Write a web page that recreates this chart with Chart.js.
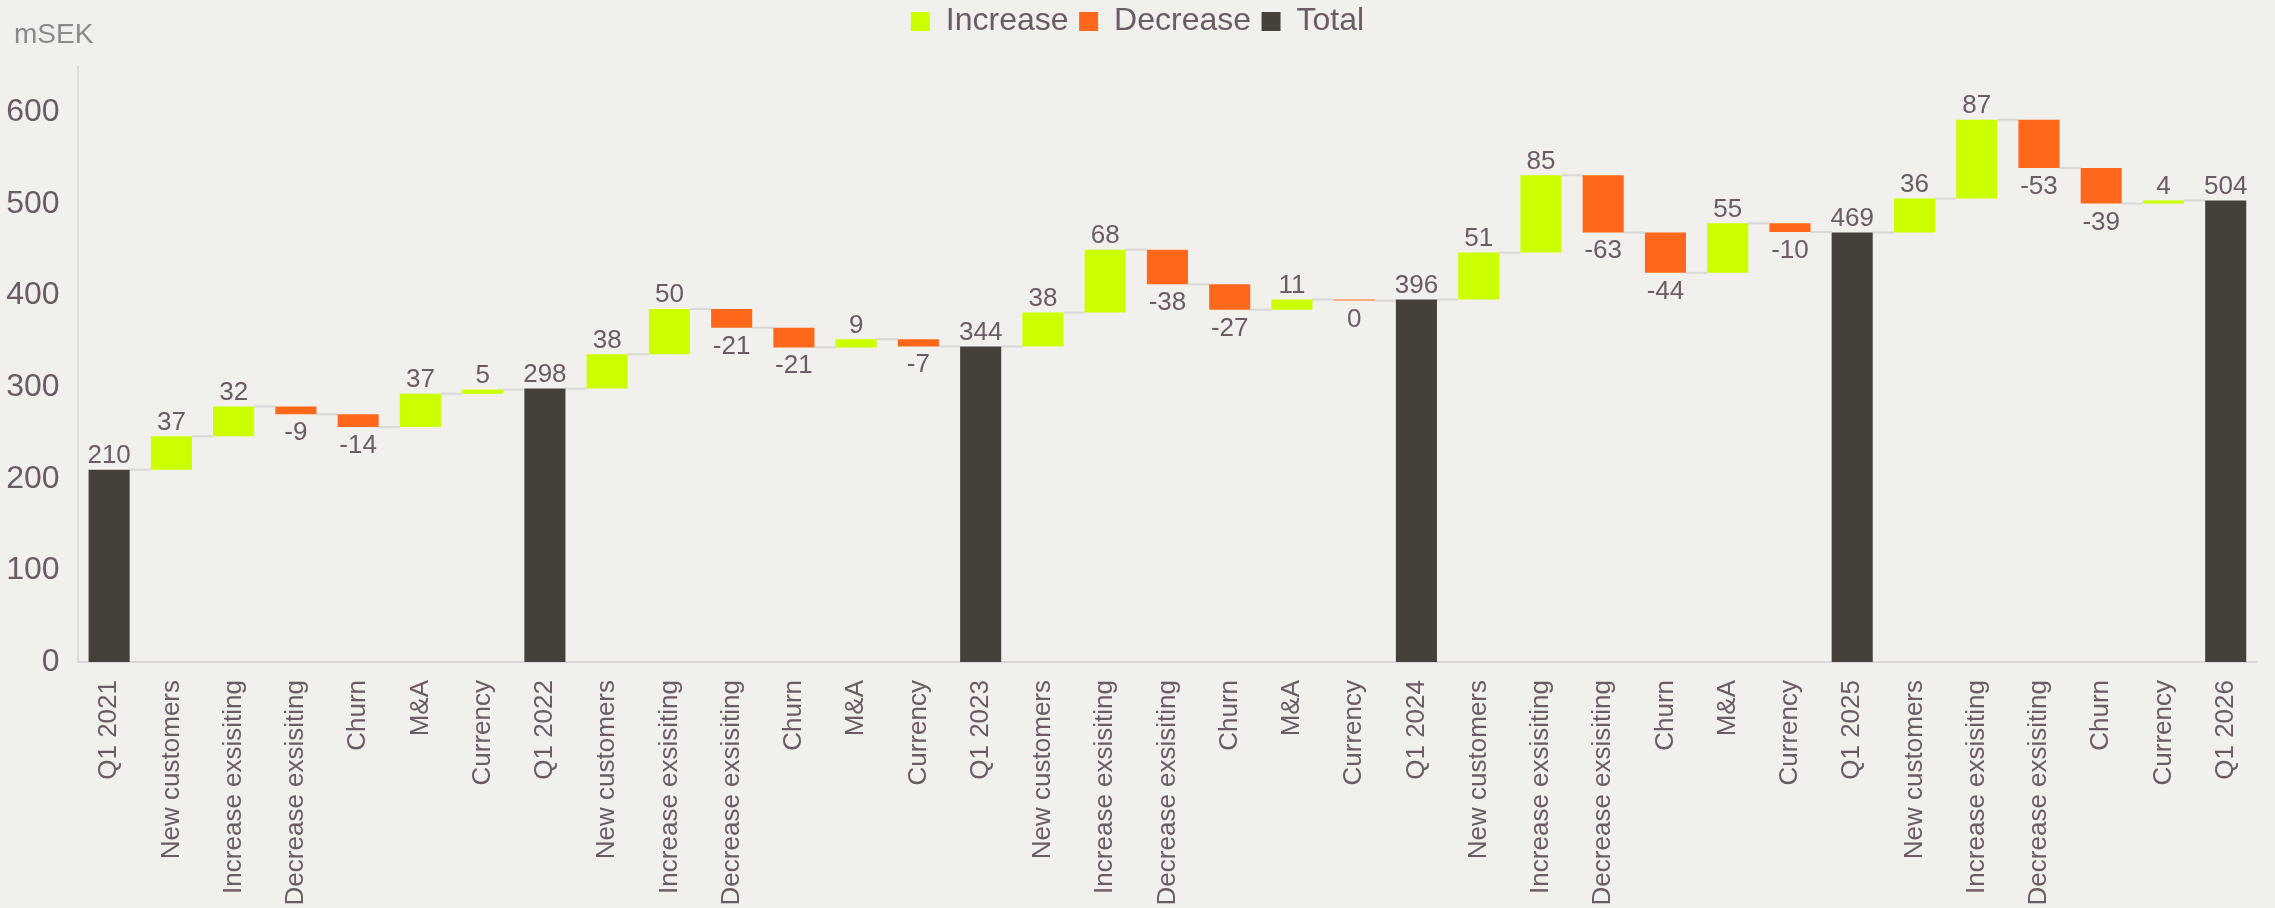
<!DOCTYPE html>
<html>
<head>
<meta charset="utf-8">
<script src="https://cdn.jsdelivr.net/npm/chart.js@4.4.1/dist/chart.umd.min.js"></script>
<style>
  html, body { margin: 0; padding: 0; background: #f1f0ec; overflow: hidden; }
  canvas { display: block; }
</style>
</head>
<body>
<canvas id="chart" width="2275" height="908"></canvas>
<script>
// ---- Data ----
const categories = [
  'Q1 2021', 'New customers', 'Increase exsisiting', 'Decrease exsisiting', 'Churn', 'M&A', 'Currency',
  'Q1 2022', 'New customers', 'Increase exsisiting', 'Decrease exsisiting', 'Churn', 'M&A', 'Currency',
  'Q1 2023', 'New customers', 'Increase exsisiting', 'Decrease exsisiting', 'Churn', 'M&A', 'Currency',
  'Q1 2024', 'New customers', 'Increase exsisiting', 'Decrease exsisiting', 'Churn', 'M&A', 'Currency',
  'Q1 2025', 'New customers', 'Increase exsisiting', 'Decrease exsisiting', 'Churn', 'Currency',
  'Q1 2026'
];

// bar kind per category: total / inc / dec
const kinds = [
  'total', 'inc', 'inc', 'dec', 'dec', 'inc', 'inc',
  'total', 'inc', 'inc', 'dec', 'dec', 'inc', 'dec',
  'total', 'inc', 'inc', 'dec', 'dec', 'inc', 'dec',
  'total', 'inc', 'inc', 'dec', 'dec', 'inc', 'dec',
  'total', 'inc', 'inc', 'dec', 'dec', 'inc',
  'total'
];

// displayed value labels
const valueLabels = [
  210, 37, 32, -9, -14, 37, 5,
  298, 38, 50, -21, -21, 9, -7,
  344, 38, 68, -38, -27, 11, 0,
  396, 51, 85, -63, -44, 55, -10,
  469, 36, 87, -53, -39, 4,
  504
];

// running level (mSEK) at the end of each bar, as drawn
const levels = [
  210, 246.5, 279, 270.5, 256.5, 293, 297.5,
  298.5, 336, 385.5, 365, 343.5, 352.5, 344.5,
  344.5, 381.5, 450.2, 412.4, 384.7, 395.7, 394.6,
  395.7, 447, 531.5, 469, 425, 479, 469.5,
  469, 506, 592, 539.5, 500.5, 504,
  504
];

const yTicks = { min: 0, max: 650, step: 100 };
const unitLabel = 'mSEK';
const seriesNames = ['Increase', 'Decrease', 'Total'];

// ---- Styling ----
const FONT = '"Liberation Sans", Arial, Helvetica, sans-serif';
const TEXT = '#6b5b64';
const COLORS = { inc: '#ccff00', dec: '#ff681b', total: '#46403b' };
const CONNECTOR = '#d9d7d7';

Chart.defaults.font.family = FONT;
Chart.defaults.color = TEXT;

function floating(kind) {
  return categories.map((c, i) => {
    if (kinds[i] !== kind) return null;
    if (kind === 'total') return [0, levels[i]];
    return [levels[i - 1], levels[i]];
  });
}

function barAt(chart, i) {
  const dsIndex = ['inc', 'dec', 'total'].indexOf(kinds[i]);
  return chart.getDatasetMeta(dsIndex).data[i];
}

const connectorPlugin = {
  id: 'connectors',
  beforeDatasetsDraw(chart) {
    const ctx = chart.ctx;
    const y = chart.scales.y;
    ctx.save();
    ctx.strokeStyle = CONNECTOR;
    ctx.lineWidth = 2;
    for (let i = 0; i < categories.length - 1; i++) {
      const a = barAt(chart, i), b = barAt(chart, i + 1);
      const py = y.getPixelForValue(levels[i]);
      ctx.beginPath();
      ctx.moveTo(a.x + a.width / 2, py);
      ctx.lineTo(b.x - b.width / 2, py);
      ctx.stroke();
    }
    ctx.restore();
  }
};

const labelPlugin = {
  id: 'valueLabels',
  afterDatasetsDraw(chart) {
    const ctx = chart.ctx;
    ctx.save();
    ctx.font = '26px ' + FONT;
    ctx.fillStyle = TEXT;
    ctx.textAlign = 'center';
    ctx.textBaseline = 'alphabetic';
    for (let i = 0; i < categories.length; i++) {
      const bar = barAt(chart, i);
      const top = Math.min(bar.y, bar.base);
      const bottom = Math.max(bar.y, bar.base);
      const txt = String(valueLabels[i]);
      if (kinds[i] === 'dec') ctx.fillText(txt, bar.x, bottom + 26);
      else ctx.fillText(txt, bar.x, top - 6.5);
    }
    ctx.restore();
  }
};

const unitPlugin = {
  id: 'unitLabel',
  afterDraw(chart) {
    const ctx = chart.ctx;
    ctx.save();
    ctx.font = '28px ' + FONT;
    ctx.fillStyle = '#8a8a8a';
    ctx.textAlign = 'left';
    ctx.textBaseline = 'alphabetic';
    ctx.fillText(unitLabel, 14, 43.3);
    ctx.restore();
  }
};

const common = { grouped: false, barPercentage: 0.66, categoryPercentage: 1, borderWidth: 0 };

new Chart(document.getElementById('chart'), {
  type: 'bar',
  data: {
    labels: categories,
    datasets: [
      Object.assign({ label: seriesNames[0], data: floating('inc'), backgroundColor: COLORS.inc }, common),
      Object.assign({ label: seriesNames[1], data: floating('dec'), backgroundColor: COLORS.dec }, common),
      Object.assign({ label: seriesNames[2], data: floating('total'), backgroundColor: COLORS.total }, common)
    ]
  },
  options: {
    responsive: false,
    animation: false,
    devicePixelRatio: 1,
    layout: { padding: { top: -5, left: 6, right: 6, bottom: 0 } },
    plugins: {
      legend: {
        position: 'top',
        labels: { boxWidth: 19, boxHeight: 19, padding: 10.5, color: TEXT, font: { size: 32 } }
      },
      title: {
        display: true, text: '', weight: 500,
        padding: { top: 0, bottom: 9.2 }, font: { size: 10, lineHeight: 1 }
      },
      tooltip: { enabled: false }
    },
    scales: {
      x: {
        grid: { display: false, drawTicks: false },
        border: { display: true, color: '#ddd7da', width: 2 },
        ticks: { autoSkip: false, minRotation: 90, maxRotation: 90, padding: 18, color: TEXT, font: { size: 26 } },
        afterFit(scale) { scale.height = 246; }
      },
      y: {
        min: yTicks.min, max: yTicks.max,
        grid: { display: false, drawTicks: false },
        border: { display: true, color: '#dcdada', width: 2 },
        ticks: { stepSize: yTicks.step, includeBounds: false, padding: 18.4, color: TEXT, font: { size: 32 } },
        afterFit(scale) { scale.width = 72; }
      }
    }
  },
  plugins: [connectorPlugin, labelPlugin, unitPlugin]
});
</script>
</body>
</html>
